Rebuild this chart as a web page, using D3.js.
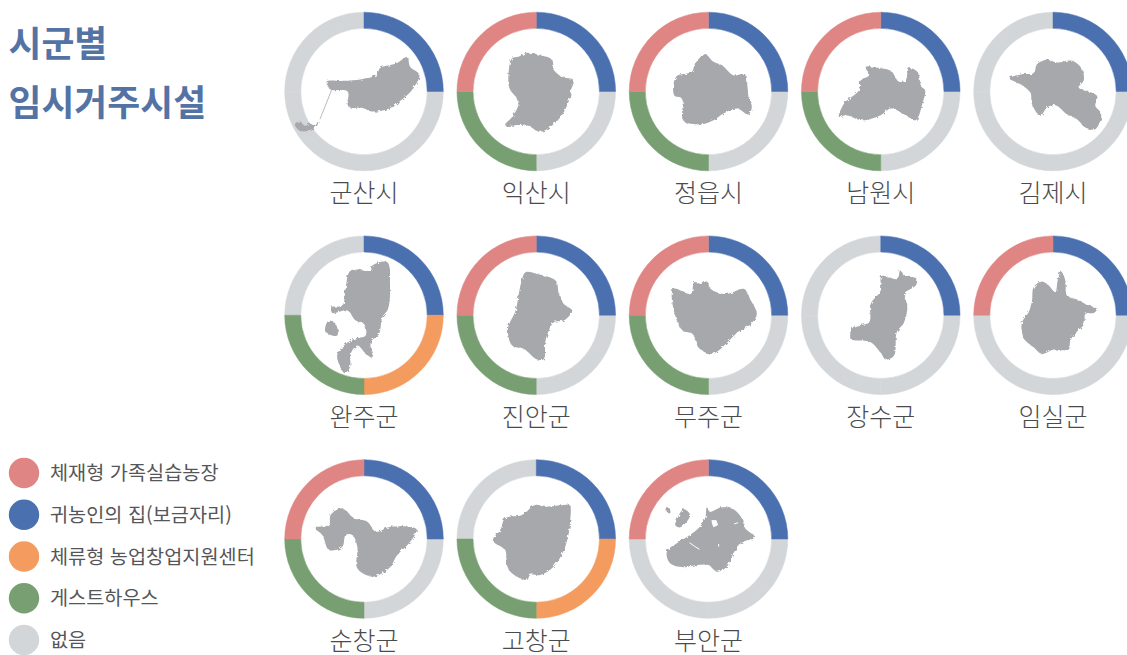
<!DOCTYPE html>
<html lang="ko"><head><meta charset="utf-8">
<script src="https://cdn.jsdelivr.net/npm/d3@7/dist/d3.min.js"></script>
<style>html,body{margin:0;padding:0;background:#fff}svg{display:block}text{font-family:"Noto Sans CJK KR","Noto Sans",sans-serif}</style>
</head><body><svg id="c" width="1127" height="655"></svg>
<script>
const titleLines = ["시군별","임시거주시설"];
const cities = ["군산시","익산시","정읍시","남원시","김제시","완주군","진안군","무주군","장수군","임실군","순창군","고창군","부안군"];
const facilityTypes = ["체재형 가족실습농장","귀농인의 집(보금자리)","체류형 농업창업지원센터","게스트하우스","없음"];
const typeColors = ["#df8583","#4a70b0","#f49b5f","#779f72","#d3d6d9"];
const familyFarm = [0,1,1,1,0,0,1,1,0,1,1,0,1];
const returnHome = [1,1,1,1,1,1,1,1,1,1,1,1,1];
const stayCenter = [0,0,0,0,0,1,0,0,0,0,0,1,0];
const guestHouse = [0,1,1,1,0,1,1,1,0,0,1,1,0];

// county silhouettes: traced outlines, [origin, polygons...]
const outlines = [
 {o:[1092,275],p:[[[980,245],[1030,243],[1085,238],[1130,225],[1140,205],[1190,190],[1222,172],[1230,200],[1258,225],[1240,265],[1205,300],[1170,325],[1115,335],[1090,325],[1045,320],[1043,275],[990,268]],
   [[885,372],[900,365],[915,378],[930,372],[945,378],[955,362],[950,380],[925,392],[905,395],[890,385]]],l:[[995,270],[960,358]]},
 {o:[258,274],p:[[[185,175],[205,170],[230,158],[270,165],[305,178],[312,210],[335,230],[370,240],[362,270],[358,295],[335,345],[300,380],[270,395],[230,375],[165,375],[190,345],[205,305],[178,265],[175,220]]]},
 {o:[775,274],p:[[[735,190],[765,162],[790,185],[815,195],[850,225],[885,222],[892,260],[895,290],[905,320],[895,343],[860,325],[820,340],[790,360],[755,372],[700,362],[695,295],[672,285],[678,230],[725,215]]]},
 {o:[270,274],p:[[[225,200],[260,203],[300,212],[325,245],[345,240],[355,205],[380,215],[392,260],[403,270],[395,310],[375,360],[345,345],[300,325],[270,345],[215,360],[165,345],[145,350],[160,310],[205,270],[210,240],[235,225]]]},
 {o:[788,277],p:[[[658,238],[695,225],[730,222],[740,195],[770,182],[800,190],[845,185],[875,210],[880,245],[865,265],[920,290],[915,320],[933,345],[915,390],[885,385],[860,360],[830,345],[795,318],[770,325],[750,350],[725,315],[720,280],[690,255]]]},
 {o:[280,269],p:[[[240,135],[300,135],[305,120],[350,110],[358,175],[352,250],[335,275],[325,325],[300,350],[305,395],[290,390],[260,360],[240,385],[238,425],[222,442],[205,415],[200,385],[225,355],[250,340],[285,330],[280,295],[255,285],[230,255],[185,262],[182,245],[215,240],[225,185]],
   [[175,285],[195,295],[200,330],[165,320],[165,300]]]},
 {o:[797,269],p:[[[765,140],[800,145],[855,165],[865,205],[880,235],[905,255],[880,285],[850,290],[825,345],[820,400],[800,402],[760,370],[725,360],[712,310],[735,255],[752,170]]]},
 {o:[263,269],p:[[[158,190],[210,205],[220,170],[240,175],[258,168],[270,190],[315,205],[370,190],[390,225],[408,265],[385,300],[350,320],[325,345],[275,385],[235,368],[215,325],[185,315],[155,235]]]},
 {o:[780,269],p:[[[782,152],[830,160],[838,135],[850,150],[888,160],[885,180],[850,205],[860,240],[850,290],[828,320],[820,390],[795,402],[782,385],[750,350],[715,345],[690,340],[697,305],[745,290],[750,235],[780,195]]]},
 {o:[1298,269],p:[[[1240,185],[1265,168],[1285,180],[1305,200],[1312,165],[1322,135],[1335,165],[1340,210],[1370,222],[1395,235],[1430,250],[1420,262],[1395,265],[1392,295],[1370,318],[1350,345],[1345,372],[1300,372],[1265,385],[1240,365],[1215,345],[1205,320],[1205,290],[1225,260],[1235,225]]]},
 {o:[1090,297],p:[[[942,263],[985,255],[990,225],[1025,205],[1060,235],[1100,245],[1125,275],[1170,260],[1248,268],[1225,310],[1190,345],[1165,385],[1115,410],[1070,385],[1070,320],[1055,285],[1035,285],[1025,320],[985,330],[965,285]]]},
 {o:[258,267],p:[[[165,205],[215,195],[255,165],[285,170],[340,165],[358,165],[360,210],[345,290],[310,350],[270,375],[240,375],[230,390],[185,370],[170,345],[165,300],[128,272],[150,240]]]},
 {o:[775,267],p:[[[770,170],[780,185],[815,172],[850,178],[875,205],[885,235],[915,262],[880,275],[865,285],[845,320],[830,350],[800,365],[775,345],[740,345],[700,352],[660,340],[650,305],[680,280],[715,258],[745,235],[765,205]],
   [[680,210],[700,178],[720,195],[690,232],[675,225]],[[648,172],[658,175],[660,190],[650,185]]],
   w:[[[785,212],[798,212],[802,225],[790,230],[785,212]],[[718,278],[732,288],[748,298]],[[805,282],[806,290]],[[852,222],[864,218]]]}
];

const svg = d3.select("#c");
const defs = svg.append("defs");
const rough = defs.append("filter").attr("id","rough").attr("x","-10%").attr("y","-10%").attr("width","120%").attr("height","120%");
rough.append("feTurbulence").attr("type","fractalNoise").attr("baseFrequency",0.3).attr("numOctaves",2).attr("seed",4).attr("result","n");
rough.append("feDisplacementMap").attr("in","SourceGraphic").attr("in2","n").attr("scale",3.5);

const perRow = 5;
const colX = d3.scaleLinear().domain([0,4]).range([364,1053]);
const rowY = d3.scaleLinear().domain([0,2]).range([91.5,539]);
const outerR = 79.3, innerR = 63.2;
const pie = d3.pie().value(1).sort(null);
const arc = d3.arc().innerRadius(innerR).outerRadius(outerR);
const traceScale = d3.scaleLinear().domain([0,3]).range([0,1]);
const outlineLine = d3.line().curve(d3.curveCatmullRomClosed.alpha(0.5));
const noneColor = typeColors[4];

cities.forEach((name,i)=>{
  const g = svg.append("g").attr("transform",`translate(${colX(i%perRow)},${rowY(Math.floor(i/perRow))})`);
  const slots = [[returnHome[i],typeColors[1]],[stayCenter[i],typeColors[2]],[guestHouse[i],typeColors[3]],[familyFarm[i],typeColors[0]]];
  const col = d=>d.data[0]?d.data[1]:noneColor;
  g.selectAll("path.slice").data(pie(slots).slice().sort((a,b)=>(a.data[0]-b.data[0])))
    .join("path").attr("class","slice")
    .attr("d",arc).attr("fill",col).attr("stroke",col).attr("stroke-width",0.5);
  const s = outlines[i];
  const rel = q=>[traceScale(q[0]-s.o[0]),traceScale(q[1]-s.o[1])];
  const m = g.append("g").attr("filter","url(#rough)");
  m.append("path").attr("fill","#a6a8ac")
    .attr("d",s.p.map(poly=>outlineLine(poly.map(rel))).join(""));
  if(s.l) g.append("path").attr("fill","none").attr("stroke","#a6a8ac").attr("stroke-width",0.8)
    .attr("d",d3.line()(s.l.map(rel)));
  (s.w||[]).forEach(w=>g.append("path").attr("fill",w.length>3?"#fff":"none").attr("stroke","#fff").attr("stroke-width",1)
    .attr("d",d3.line()(w.map(rel))));
  g.append("text").attr("text-anchor","middle").attr("y",110.5).attr("font-size",25).attr("font-weight",300)
    .attr("fill","#4a4b4d").text(name);
});

svg.selectAll("text.title").data(titleLines).join("text").attr("class","title")
  .attr("x",8.5).attr("y",(d,i)=>57+i*58.5).attr("font-size",35.8).attr("font-weight",700)
  .attr("fill","#5473a5").text(d=>d);

const legendY = d3.scaleLinear().domain([0,4]).range([473,640]);
const lg = svg.selectAll("g.legend").data(facilityTypes).join("g").attr("class","legend")
  .attr("transform",(d,i)=>`translate(0,${legendY(i)})`);
lg.append("circle").attr("cx",24).attr("r",15.2).attr("fill",(d,i)=>typeColors[i]);
lg.append("text").attr("x",50).attr("y",7).attr("font-size",19.7).attr("font-weight",400).attr("fill","#55565a").text(d=>d);
</script></body></html>
